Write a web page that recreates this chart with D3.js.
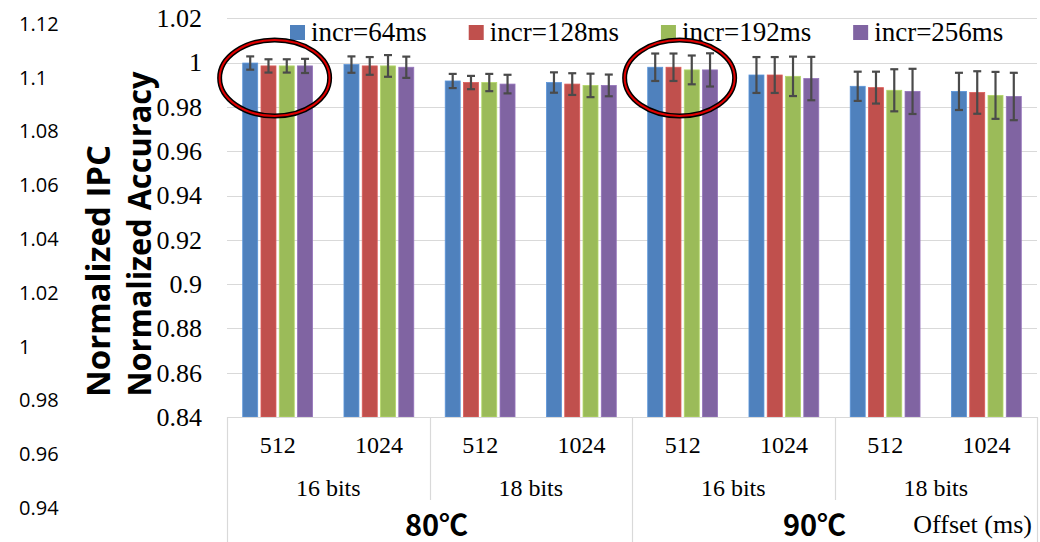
<!DOCTYPE html>
<html>
<head>
<meta charset="utf-8">
<script src="https://cdn.jsdelivr.net/npm/d3@7"></script>
<style>
  body { margin: 0; background: #fff; }
  svg { display: block; }
</style>
</head>
<body>
<svg id="chart" width="1040" height="542"></svg>
<script>
// categories (innermost level first)
const offsets = ["512", "1024", "512", "1024", "512", "1024", "512", "1024"];
const bits = ["16 bits", "18 bits", "16 bits", "18 bits"];
const temps = ["80℃", "90℃"];
const series = ["incr=64ms", "incr=128ms", "incr=192ms", "incr=256ms"];
const colors = ["#4F81BD", "#C0504D", "#9BBB59", "#8064A2"];

// normalized accuracy per series
const acc64 = [0.9998, 0.9991, 0.9917, 0.9910, 0.9979, 0.9944, 0.9893, 0.9870];
const acc128 = [0.9985, 0.9985, 0.9910, 0.9903, 0.9979, 0.9944, 0.9887, 0.9865];
const acc192 = [0.9985, 0.9985, 0.9910, 0.9897, 0.9967, 0.9938, 0.9875, 0.9852];
const acc256 = [0.9985, 0.9979, 0.9903, 0.9897, 0.9967, 0.9928, 0.9870, 0.9847];

// error (+/-)
const err64 = [0.0030, 0.0037, 0.0032, 0.0046, 0.0062, 0.0081, 0.0066, 0.0084];
const err128 = [0.0030, 0.0040, 0.0030, 0.0049, 0.0062, 0.0081, 0.0072, 0.0096];
const err192 = [0.0030, 0.0049, 0.0039, 0.0053, 0.0065, 0.0089, 0.0095, 0.0106];
const err256 = [0.0032, 0.0048, 0.0042, 0.0049, 0.0075, 0.0098, 0.0102, 0.0107];

const accTicks = [0.84, 0.86, 0.88, 0.9, 0.92, 0.94, 0.96, 0.98, 1, 1.02];
const ipcTicks = [0.94, 0.96, 0.98, 1, 1.02, 1.04, 1.06, 1.08, 1.1, 1.12];

// groups that are circled
const circled = [0, 4];

const values = [acc64, acc128, acc192, acc256];
const errors = [err64, err128, err192, err256];

const svg = d3.select("#chart");
const plotLeft = 227, plotRight = 1037, plotTop = 18.3, plotBottom = 417;

const x0 = d3.scaleBand().domain(d3.range(offsets.length)).range([plotLeft, plotRight]);
const x1 = d3.scaleBand().domain(d3.range(series.length)).range([0, x0.bandwidth()])
  .paddingInner(0.18).paddingOuter(0.86);
const y = d3.scaleLinear().domain([0.84, 1.02]).range([plotBottom, plotTop]);
const yIpc = d3.scaleLinear().domain([0.94, 1.12]).range([508, 24]);

const fmt = (v) => String(+v.toFixed(2));

// gridlines
svg.append("g")
  .selectAll("line")
  .data(accTicks)
  .join("line")
  .attr("x1", plotLeft)
  .attr("x2", plotRight)
  .attr("y1", (d) => Math.round(y(d)) + 0.5)
  .attr("y2", (d) => Math.round(y(d)) + 0.5)
  .attr("stroke", "#D9D9D9")
  .attr("stroke-width", 1.2);

// left accuracy tick labels
const yAxis = svg.append("g")
  .attr("transform", `translate(${plotLeft - 25},0)`)
  .call(d3.axisLeft(y).tickValues(accTicks).tickFormat(fmt).tickSize(0).tickPadding(0));
yAxis.select(".domain").remove();
yAxis.selectAll("text")
  .attr("font-family", "'Liberation Serif', 'Times New Roman', serif")
  .attr("font-size", 26)
  .attr("fill", "#000");

// phantom IPC axis labels on the far left
const ipcAxis = svg.append("g")
  .attr("transform", "translate(19,0)")
  .call(d3.axisRight(yIpc).tickValues(ipcTicks).tickFormat(fmt).tickSize(0).tickPadding(0));
ipcAxis.select(".domain").remove();
ipcAxis.selectAll("text")
  .attr("font-family", "'Open Sans', sans-serif")
  .attr("font-size", 20)
  .attr("fill", "#000");

// axis titles
svg.append("text")
  .attr("transform", "translate(110,271) rotate(-90)")
  .attr("text-anchor", "middle")
  .attr("font-family", "'Open Sans', sans-serif")
  .attr("font-weight", "bold")
  .attr("font-size", 32)
  .attr("textLength", 252)
  .attr("lengthAdjust", "spacingAndGlyphs")
  .text("Normalized IPC");
svg.append("text")
  .attr("transform", "translate(151,234) rotate(-90)")
  .attr("text-anchor", "middle")
  .attr("font-family", "'Open Sans', sans-serif")
  .attr("font-weight", "bold")
  .attr("font-size", 32)
  .attr("textLength", 325)
  .attr("lengthAdjust", "spacingAndGlyphs")
  .text("Normalized Accuracy");

// bars
const groups = svg.append("g")
  .selectAll("g")
  .data(d3.range(offsets.length))
  .join("g")
  .attr("transform", (i) => `translate(${x0(i)},0)`);

groups.selectAll("rect")
  .data((i) => series.map((s, k) => ({ k, v: values[k][i], e: errors[k][i] })))
  .join("rect")
  .attr("x", (d) => x1(d.k))
  .attr("y", (d) => y(d.v))
  .attr("width", x1.bandwidth())
  .attr("height", (d) => plotBottom - y(d.v))
  .attr("fill", (d) => colors[d.k])
  .attr("stroke", (d) => d3.color(colors[d.k]).brighter(0.4))
  .attr("stroke-width", 0.8);

// error bars
const eb = groups.selectAll("g.err")
  .data((i) => series.map((s, k) => ({ k, v: values[k][i], e: errors[k][i] })))
  .join("g")
  .attr("class", "err")
  .attr("stroke", "#4A4A4A")
  .attr("stroke-width", 2.2);
eb.append("line")
  .attr("x1", (d) => x1(d.k) + x1.bandwidth() / 2)
  .attr("x2", (d) => x1(d.k) + x1.bandwidth() / 2)
  .attr("y1", (d) => y(d.v + d.e))
  .attr("y2", (d) => y(d.v - d.e));
eb.selectAll("line.cap")
  .data((d) => [d.v + d.e, d.v - d.e].map((t) => ({ k: d.k, t })))
  .join("line")
  .attr("class", "cap")
  .attr("x1", (d) => x1(d.k) + x1.bandwidth() / 2 - 4)
  .attr("x2", (d) => x1(d.k) + x1.bandwidth() / 2 + 4)
  .attr("y1", (d) => y(d.t))
  .attr("y2", (d) => y(d.t));

// category axis (3 levels)
const cat = svg.append("g").attr("stroke", "#D9D9D9").attr("stroke-width", 1.2);
cat.append("line").attr("x1", plotLeft).attr("x2", plotRight).attr("y1", plotBottom + 0.5).attr("y2", plotBottom + 0.5);
// separators between bit groups (level 2) and temperature groups (level 3)
d3.range(0, offsets.length + 1, 2).forEach((i) => {
  const xx = i < offsets.length ? x0(i) : plotRight;
  const full = i % 4 === 0;
  cat.append("line")
    .attr("x1", Math.round(xx) + 0.5).attr("x2", Math.round(xx) + 0.5)
    .attr("y1", plotBottom).attr("y2", full ? 542 : 500);
});

const serif = "'Liberation Serif', 'Times New Roman', serif";
svg.append("g")
  .selectAll("text")
  .data(offsets)
  .join("text")
  .attr("x", (d, i) => x0(i) + x0.bandwidth() / 2)
  .attr("y", 453)
  .attr("text-anchor", "middle")
  .attr("font-family", serif)
  .attr("font-size", 24)
  .text((d) => d);

svg.append("g")
  .selectAll("text")
  .data(bits)
  .join("text")
  .attr("x", (d, i) => x0(i * 2) + x0.bandwidth())
  .attr("y", 496)
  .attr("text-anchor", "middle")
  .attr("font-family", serif)
  .attr("font-size", 24)
  .text((d) => d);

const tempShift = [7, -20];
svg.append("g")
  .selectAll("text")
  .data(temps)
  .join("text")
  .attr("x", (d, i) => x0(i * 4) + x0.bandwidth() * 2 + tempShift[i])
  .attr("y", 536)
  .attr("text-anchor", "middle")
  .attr("font-family", "'Noto Sans CJK KR', 'Noto Sans', sans-serif")
  .attr("font-weight", "bold")
  .attr("font-size", 29)
  .text((d) => d);

svg.append("text")
  .attr("x", plotRight - 5)
  .attr("y", 533)
  .attr("text-anchor", "end")
  .attr("font-family", serif)
  .attr("font-size", 26)
  .text("Offset (ms)");

// legend
const legend = svg.append("g");
let lx = 290;
series.forEach((s, k) => {
  legend.append("rect")
    .attr("x", lx).attr("y", 25)
    .attr("width", 15).attr("height", 15)
    .attr("fill", colors[k]);
  const t = legend.append("text")
    .attr("x", lx + 21).attr("y", 41)
    .attr("font-family", serif)
    .attr("font-size", 27)
    .text(s);
  lx += 21 + t.node().getComputedTextLength() + 42;
});

// highlight ellipses around circled groups
circled.forEach((i) => {
  const cx = x0(i) + x0.bandwidth() / 2 - 3;
  const ell = svg.append("g");
  ell.append("ellipse")
    .attr("cx", cx).attr("cy", 78).attr("rx", 55).attr("ry", 38)
    .attr("fill", "none").attr("stroke", "#000").attr("stroke-width", 5);
  ell.append("ellipse")
    .attr("cx", cx).attr("cy", 78).attr("rx", 55).attr("ry", 38)
    .attr("fill", "none").attr("stroke", "#E00000").attr("stroke-width", 2);
});
</script>
</body>
</html>
